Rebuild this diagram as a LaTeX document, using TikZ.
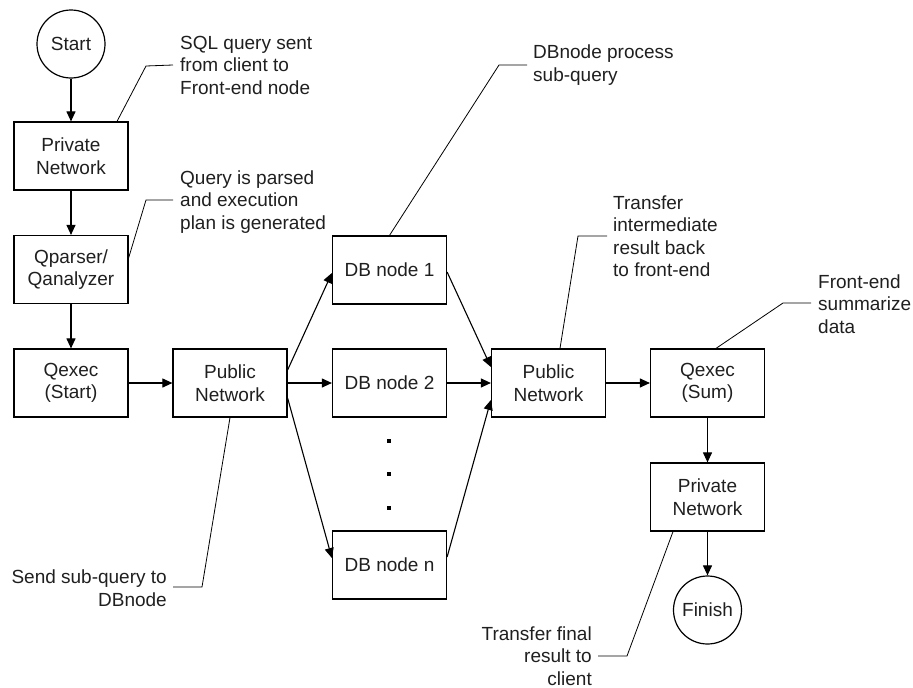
\documentclass[tikz,border=0pt]{standalone}
\usepackage{fontspec}
\setmainfont{Liberation Sans}
\usetikzlibrary{arrows.meta,calc}
\begin{document}
\begin{tikzpicture}[x=1pt,y=-1pt,
  txt/.style={font=\fontsize{19}{22.5}\selectfont, text=black!88},
  box/.style={txt, draw, line width=1.2pt, minimum width=114pt, minimum height=68pt, inner sep=0pt, align=center},
  term/.style={txt, draw, circle, line width=1.2pt, minimum size=68pt, inner sep=0pt},
  flow/.style={-{Triangle[length=10pt,width=9pt]}, line width=1.1pt},
  lead/.style={line width=0.8pt},
  note/.style={txt, inner sep=0pt, align=left, anchor=west},
  noter/.style={txt, inner sep=0pt, align=right, anchor=east},
  dotmark/.style={fill=black, minimum size=4.5pt, inner sep=0pt}
]
\useasboundingbox (0,0) rectangle (913,688);

% flow nodes
\node[term] (start) at (71,44) {Start};
\node[box] (pn1) at (71,156) {Private\\Network};
\node[box] (qp) at (71,269.5) {Qparser/\\Qanalyzer};
\node[box] (qs) at (71,383) {Qexec\\(Start)};
\node[box] (pub1) at (230,383) {Public\\Network};
\node[box] (db1) at (389.5,270) {DB node 1};
\node[box] (db2) at (389.5,383) {DB node 2};
\node[box] (dbn) at (389.5,565) {DB node n};
\node[box] (pub2) at (548.5,383) {Public\\Network};
\node[box] (qsum) at (707.5,383) {Qexec\\(Sum)};
\node[box] (pn2) at (707.5,497) {Private\\Network};
\node[term] (finish) at (707.5,610) {Finish};

% ellipsis between DB node 2 and DB node n
\node[dotmark] (d1) at (389,441) {};
\node[dotmark] (d2) at (389,474) {};
\node[dotmark] (d3) at (389,508) {};

% arrows
\draw[flow] (start) -- (pn1);
\draw[flow] (pn1) -- (qp);
\draw[flow] (qp) -- (qs);
\draw[flow] (qs) -- (pub1);
\draw[flow] ([yshift=13pt]pub1.east) -- ([yshift=-3pt]db1.west);
\draw[flow] (pub1.east) -- (db2.west);
\draw[flow] ([yshift=-15pt]pub1.east) -- ([yshift=7pt]dbn.west);
\draw[flow] ([yshift=-2pt]db1.east) -- ([yshift=16pt]pub2.west);
\draw[flow] (db2.east) -- (pub2.west);
\draw[flow] ([yshift=8pt]dbn.east) -- ([yshift=-17pt]pub2.west);
\draw[flow] (pub2) -- (qsum);
\draw[flow] (qsum) -- (pn2);
\draw[flow] (pn2) -- (finish);

% annotations
\node[note] (nsql) at (180,65) {SQL query sent\\from client to\\Front-end node};
\node[note] (nparse) at (180,202) {Query is parsed\\and execution\\plan is generated};
\node[note] (nproc) at (533,65) {DBnode process\\sub-query};
\node[note] (ntrans) at (613,236) {Transfer\\intermediate\\result back\\to front-end};
\node[note] (nsum) at (818,304) {Front-end\\summarize\\data};
\node[noter] (nsend) at (167,588) {Send sub-query to\\DBnode};
\node[noter] (nfinal) at (592,656) {Transfer final\\result to\\client};

% leader lines
\draw[lead] ([xshift=46pt]pn1.north) -- (146,66) -- ([xshift=-7pt]nsql.west);
\draw[lead] ([yshift=11.5pt]qp.east) -- (146,200) -- ([xshift=-7pt,yshift=2pt]nparse.west);
\draw[lead] (db1.north) -- (499,65) -- ([xshift=-6pt]nproc.west);
\draw[lead] ([xshift=11.5pt]pub2.north) -- (578,236) -- ([xshift=-6pt]ntrans.west);
\draw[lead] ([xshift=8.5pt]qsum.north) -- (783,303) -- ([xshift=-7pt,yshift=1pt]nsum.west);
\draw[lead] (pub1.south) -- (202,587) -- ([xshift=6pt,yshift=1pt]nsend.east);
\draw[lead] ([xshift=-34.5pt]pn2.south) -- (627,656) -- ([xshift=6pt]nfinal.east);
\end{tikzpicture}
\end{document}
